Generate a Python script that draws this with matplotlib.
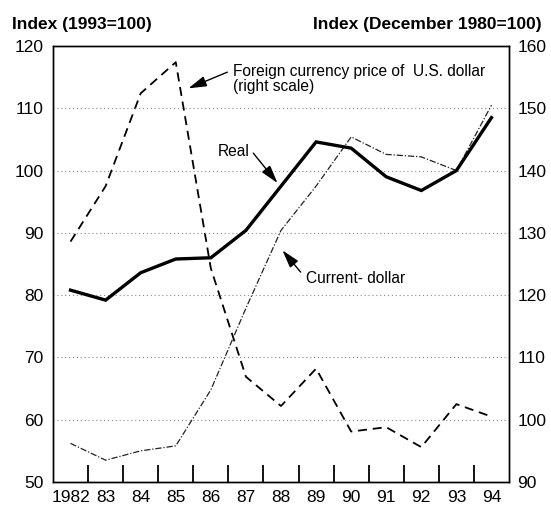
import matplotlib.pyplot as plt
from matplotlib import font_manager


YEARS = [1982, 1983, 1984, 1985, 1986, 1987, 1988, 1989, 1990, 1991, 1992, 1993, 1994]
YEAR_LABELS = ["1982", "83", "84", "85", "86", "87", "88", "89", "90", "91", "92", "93", "94"]

# left scale, 1993=100
REAL = [80.8, 79.2, 83.6, 85.8, 86.0, 90.4, 97.5, 104.6, 103.6, 99.0, 96.8, 100.0, 108.5]
CURRENT_DOLLAR = [56.2, 53.5, 55.0, 55.8, 64.8, 77.9, 90.4, 97.5, 105.4, 102.6, 102.2, 100.0, 110.5]

# right scale, December 1980=100
FOREIGN_PRICE = [128.6, 137.5, 152.4, 157.4, 124.3, 106.9, 102.2, 108.2, 98.1, 98.8, 95.6, 102.5, 100.5]

LEFT_TICKS = [50, 60, 70, 80, 90, 100, 110, 120]
RIGHT_TICKS = [90, 100, 110, 120, 130, 140, 150, 160]
GRID_LEVELS = [60, 70, 80, 90, 100, 110]


def pickNarrowFont():
	names = {f.name for f in font_manager.fontManager.ttflist}
	if "Liberation Sans Narrow" in names:
		return "Liberation Sans Narrow", 12.5
	return "Liberation Sans", 11.2


def addArrow(ax, tail, tip):
	ax.annotate(
		"",
		xy=tip,
		xytext=tail,
		arrowprops=dict(
			arrowstyle="-|>,head_length=1.1,head_width=0.32",
			color="black",
			lw=1.0,
			shrinkA=0,
			shrinkB=0,
		),
		zorder=6,
	)


def main():
	plt.rcParams["font.family"] = ["Liberation Sans", "DejaVu Sans"]
	narrow_font, narrow_size = pickNarrowFont()

	fig = plt.figure(figsize=(5.51, 5.05), dpi=100)
	ax = fig.add_axes([53 / 551, 23 / 505, 456 / 551, 436 / 505])
	ax2 = ax.twinx()

	for level in GRID_LEVELS:
		ax.axhline(level, color="#8a8a8a", linestyle=(0, (1, 2.5)), linewidth=0.8, zorder=1)

	ax.plot(YEARS, CURRENT_DOLLAR, color="#222222", linewidth=0.9,
			linestyle=(0, (5, 1.5, 1, 1.5)), zorder=3)
	ax.plot(YEARS, REAL, color="black", linewidth=2.4, solid_joinstyle="miter", zorder=4)
	ax2.plot(YEARS, FOREIGN_PRICE, color="black", linewidth=1.3,
			 linestyle=(0, (5, 3.2)), zorder=3)

	ax.set_xlim(1981.5, 1994.5)
	ax.set_ylim(50, 120)
	ax2.set_ylim(90, 160)

	ax.set_xticks(YEARS)
	ax.set_xticklabels(YEAR_LABELS)
	ax.set_xticks([y + 0.5 for y in YEARS[:-1]], minor=True)
	ax.tick_params(axis="x", which="major", length=0, pad=6, labelsize=12.5)
	ax.tick_params(axis="x", which="minor", direction="in", length=12, width=1.3)

	ax.set_yticks(LEFT_TICKS)
	ax.tick_params(axis="y", length=0, pad=7, labelsize=12.5)
	ax2.set_yticks(RIGHT_TICKS)
	ax2.tick_params(axis="y", length=0, pad=6, labelsize=12.5)

	for a in (ax, ax2):
		for spine in a.spines.values():
			spine.set_linewidth(1.0)
			spine.set_color("black")

	ax.set_zorder(ax2.get_zorder() + 1)
	ax.patch.set_visible(False)

	# annotations, placed in left-scale data coordinates
	ax.text(1986.64, 117.1, "Foreign currency price of  U.S. dollar\n(right scale)",
			ha="left", va="top", family=narrow_font, fontsize=narrow_size, linespacing=1.0)
	addArrow(ax, (1986.47, 115.8), (1985.36, 113.2))

	ax.text(1986.21, 103.0, "Real", ha="left", va="center",
			family=narrow_font, fontsize=narrow_size)
	addArrow(ax, (1987.21, 102.8), (1987.9, 98.0))

	ax.text(1988.7, 82.6, "Current- dollar", ha="left", va="center",
			family=narrow_font, fontsize=narrow_size)
	addArrow(ax, (1988.56, 83.7), (1988.04, 87.2))

	fig.text(12 / 551, 1 - 29 / 505, "Index (1993=100)", ha="left", va="baseline",
			 fontsize=12.5, fontweight="bold")
	fig.text(542 / 551, 1 - 29 / 505, "Index (December 1980=100)", ha="right", va="baseline",
			 fontsize=12.5, fontweight="bold")

	fig.savefig("out.png", dpi=100)
	plt.close(fig)


if __name__ == "__main__":
	main()
